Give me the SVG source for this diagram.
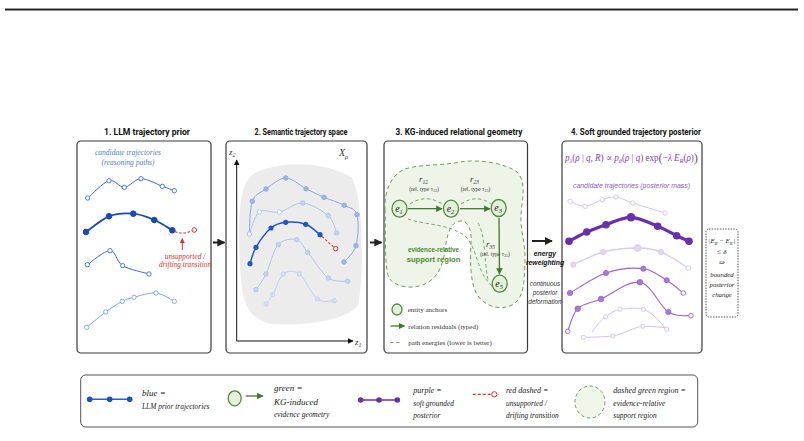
<svg xmlns="http://www.w3.org/2000/svg" width="804" height="441" viewBox="0 0 804 441">
<defs>
<style>
.box{fill:#fff;stroke:#3a3a3a;stroke-width:1.2}
.title{font-family:Roboto,"Liberation Sans",sans-serif;font-weight:700;font-size:9.5px;fill:#111;text-anchor:middle}
.ser{font-family:"Liberation Serif","DejaVu Serif",serif}
.it{font-style:italic}
.sans{font-family:"Liberation Sans",Roboto,sans-serif}
.mid{text-anchor:middle}
.b1{fill:none;stroke:#3b6fd2;stroke-width:1}
.b1c{fill:#fff;stroke:#3b6fd2;stroke-width:0.9}
.b2{fill:none;stroke:#1747b8;stroke-width:1.8}
.b2c{fill:#1747b8;stroke:#1747b8}
.b4{fill:none;stroke:#78a6f2;stroke-width:1}
.b4c{fill:#fff;stroke:#78a6f2;stroke-width:0.9}
.red{fill:none;stroke:#e03030;stroke-width:1.1;stroke-dasharray:2.5 1.8}
.redc{fill:#fff;stroke:#e03030;stroke-width:1}
.ga{fill:none;stroke:#86a8e6;stroke-width:1}
.gac{fill:#9ab6ea;stroke:#86a8e6;stroke-width:0.8}
.gb{fill:none;stroke:#adc4ee;stroke-width:1}
.gbc{fill:#c3d4f3;stroke:#adc4ee;stroke-width:0.8}
.gd{fill:none;stroke:#bfd1f3;stroke-width:1}
.gdc{fill:#d3e0f6;stroke:#bfd1f3;stroke-width:0.8}
.reg{fill:#eef5e8;stroke:#6f9e58;stroke-width:1;stroke-dasharray:4 3}
.dash{fill:none;stroke:#6f9e58;stroke-width:0.9;stroke-dasharray:3.5 2.5}
.node{fill:#e4f0da;stroke:#4f8a3a;stroke-width:1.3}
.garr{stroke:#3d7a2a;stroke-width:1.3;fill:none}
.pa{fill:none;stroke:#d6c0ee;stroke-width:1}
.pac{fill:#fff;stroke:#d6c0ee;stroke-width:0.9}
.pb{fill:none;stroke:#6a2fb0;stroke-width:3.2}
.pbc{fill:#6a2fb0}
.pl{fill:none;stroke:#dccbf2;stroke-width:1.4}
.plc{fill:#e3d6f5;stroke:#dccbf2}
.pm{fill:none;stroke:#9b62d6;stroke-width:1.1}
.pmc{fill:#a877dc;stroke:#9b62d6;stroke-width:0.8}
.pmh{fill:#fff;stroke:#9b62d6;stroke-width:0.9}
.leg{font-family:"Liberation Serif",serif;font-style:italic;fill:#222}
</style>
<marker id="ak" viewBox="0 0 10 10" refX="9" refY="5" markerWidth="4" markerHeight="4" orient="auto"><path d="M0,0L10,5L0,10z" fill="#222"/></marker>
<marker id="ag" viewBox="0 0 10 10" refX="9" refY="5" markerWidth="5" markerHeight="5" orient="auto"><path d="M0,0L10,5L0,10z" fill="#3d7a2a"/></marker>
<marker id="ar" viewBox="0 0 10 10" refX="9" refY="5" markerWidth="5" markerHeight="5" orient="auto"><path d="M0,0L10,5L0,10z" fill="#e03030"/></marker>
<marker id="ax" viewBox="0 0 10 10" refX="9" refY="5" markerWidth="6" markerHeight="6" orient="auto"><path d="M0,0L10,5L0,10z" fill="#111"/></marker>
</defs>

<rect x="5" y="8" width="793" height="1" fill="#9a9a9a"/>
<rect x="5" y="9" width="793" height="1.5" fill="#222"/>

<g id="panel1">
<rect class="box" x="77" y="141" width="134" height="212" rx="4"/>
<text class="title" x="147" y="134.5" textLength="86" lengthAdjust="spacingAndGlyphs">1. LLM trajectory prior</text>
<text class="ser it mid" x="128" y="154.5" font-size="7.5" fill="#4a80d8">candidate trajectories</text>
<text class="ser it mid" x="128" y="164.5" font-size="7.5" fill="#4a80d8">(reasoning paths)</text>
<path class="b1" d="M87.7,198 C91.3,195.1 102.9,182.5 109,180.7 C115.1,178.9 119,187.6 124.3,187.3 C129.6,187 134.7,178.9 141,178.7 C147.3,178.5 156.8,184.3 162.3,186.3 C167.9,188.3 172.3,190 174.3,190.7"/>
<g class="b1c"><circle cx="87.7" cy="198" r="2.2"/><circle cx="109" cy="180.7" r="2.2"/><circle cx="124.3" cy="187.3" r="2.2"/><circle cx="141" cy="178.7" r="2.2"/><circle cx="162.3" cy="186.3" r="2.2"/><circle cx="174.3" cy="190.7" r="2.2"/></g>
<path class="b2" d="M86,232 C89.8,229.4 101.1,219.4 109,216.3 C116.9,213.3 125.8,213.1 133.3,213.7 C140.9,214.3 147.8,217.2 154.3,220 C160.8,222.8 169.3,228.6 172.3,230.3"/>
<g class="b2c"><circle cx="86" cy="232" r="2.8"/><circle cx="109" cy="216.3" r="2.8"/><circle cx="133.3" cy="213.7" r="2.8"/><circle cx="154.3" cy="220" r="2.8"/><circle cx="172.3" cy="230.3" r="2.8"/></g>
<path class="red" d="M175,231.5 C180,234 187,233.5 191.8,230.6"/>
<circle class="redc" cx="194.3" cy="230" r="2.3"/>
<line x1="182.3" y1="250" x2="182.3" y2="238.5" stroke="#e03030" stroke-width="1" marker-end="url(#ar)"/>
<text class="ser it mid" x="185" y="258.5" font-size="7.3" fill="#e03030">unsupported /</text>
<text class="ser it mid" x="185" y="267" font-size="7.3" fill="#e03030">drifting transition</text>
<path class="b1" d="M87.3,264.7 C91.1,262.4 104.1,250.5 110,250.7 C115.9,250.9 116.2,261.8 122.7,265.7 C129.2,269.6 144.6,272.6 149,274"/>
<g class="b1c"><circle cx="87.3" cy="264.7" r="2.2"/><circle cx="110" cy="250.7" r="2.2"/><circle cx="122.7" cy="265.7" r="2.2"/><circle cx="149" cy="274" r="2.2"/></g>
<path class="b4" d="M86.7,327.3 C89.9,324.8 99.8,316.3 105.7,312 C111.6,307.7 117.6,303.8 122.3,301.3 C127,298.9 128.4,298.7 134,297.3 C139.6,295.9 149.3,292.3 156,293 C162.7,293.7 171.3,299.9 174.3,301.3"/>
<g class="b4c"><circle cx="86.7" cy="327.3" r="2.2"/><circle cx="105.7" cy="312" r="2.2"/><circle cx="122.3" cy="301.3" r="2.2"/><circle cx="134" cy="297.3" r="2.2"/><circle cx="156" cy="293" r="2.2"/><circle cx="174.3" cy="301.3" r="2.2"/></g>
</g>

<g id="panel2">
<rect class="box" x="226" y="141" width="141" height="212" rx="4"/>
<text class="title" x="301" y="134.5" textLength="93" lengthAdjust="spacingAndGlyphs">2. Semantic trajectory space</text>
<path d="M262,170 C290,160 330,163 352,178 C364,200 364,280 358,305 C345,322 300,326 272,324 C250,320 243,305 241,280 C238,240 238,200 245,185 C250,175 255,172 262,170 Z" fill="#ececec"/>
<line x1="236.7" y1="341" x2="236.7" y2="160" stroke="#111" stroke-width="1" marker-end="url(#ax)"/>
<line x1="236.7" y1="341" x2="353" y2="341" stroke="#111" stroke-width="1" marker-end="url(#ax)"/>
<text class="ser it" x="229" y="155" font-size="9" fill="#333">z<tspan font-size="6" dy="2">2</tspan></text>
<text class="ser it" x="355" y="345" font-size="9" fill="#333">z<tspan font-size="6" dy="2">1</tspan></text>
<text class="ser it" x="339" y="156" font-size="10" fill="#333">X<tspan font-size="6.5" dy="2.5">ρ</tspan></text>
<path class="ga" d="M249.3,234 C249.8,228.6 249.5,208.8 252.3,201.3 C255.1,193.8 260.4,192.9 266,189 C271.6,185.1 279,178 285.7,178 C292.4,178 299.6,185.5 306,188.7 C312.4,191.9 317.6,194.5 324,197.3 C330.4,200.1 338.8,202.4 344.3,205.3 C349.8,208.2 355,208 357,214.7 C359,221.4 358.2,237.8 356,245.7 C353.8,253.6 346,259.3 344,262"/>
<g class="gac"><circle cx="252.3" cy="201.3" r="2.3"/><circle cx="266" cy="189" r="2.3"/><circle cx="285.7" cy="178" r="2.3"/><circle cx="306" cy="188.7" r="2.3"/><circle cx="324" cy="197.3" r="2.3"/><circle cx="344.3" cy="205.3" r="2.3"/><circle cx="357" cy="214.7" r="2.3"/><circle cx="356" cy="245.7" r="2.3"/><circle cx="344" cy="262" r="2.3"/></g>
<path class="gb" d="M249.3,234 C251,230.3 254.3,215.7 259.3,212 C264.3,208.3 272.1,213.5 279.3,212 C286.5,210.5 294.5,202.4 302.7,203 C310.9,203.6 322.6,210.7 328.3,215.7 C334,220.7 335.3,230.1 336.7,233"/>
<circle cx="249.3" cy="234" r="2.2" fill="#fff" stroke="#9ab6ea" stroke-width="0.9"/>
<g fill="#fff" stroke="#adc4ee" stroke-width="0.9"><circle cx="259.3" cy="212" r="2.2"/><circle cx="279.3" cy="212" r="2.2"/></g>
<g class="gbc"><circle cx="302.7" cy="203" r="2.3"/><circle cx="328.3" cy="215.7" r="2.3"/><circle cx="336.7" cy="233" r="2.3"/></g>
<path class="gb" d="M256,289.7 C257.7,287.1 262.3,281.5 266,274 C269.7,266.5 273.2,250.4 278.3,244.7 C283.4,239 291.8,238.4 296.7,239.7 C301.6,241 302.4,245.9 307.7,252.3 C313,258.7 321.6,273.2 328.3,278 C335,282.8 344.5,280.7 347.7,281.3"/>
<g class="gbc"><circle cx="256" cy="289.7" r="2.3"/><circle cx="266" cy="274" r="2.3"/><circle cx="278.3" cy="244.7" r="2.3"/><circle cx="296.7" cy="239.7" r="2.3"/><circle cx="307.7" cy="252.3" r="2.3"/><circle cx="328.3" cy="278" r="2.3"/><circle cx="347.7" cy="281.3" r="2.3"/></g>
<path class="gd" d="M266,304 C267.1,302.5 269.8,299.7 272.7,294.7 C275.6,289.7 278.9,277.5 283.3,274 C287.7,270.5 293.6,269.8 299.3,274 C305,278.2 311.5,294.5 317.3,299 C323.1,303.5 331.5,300.4 334.3,300.7"/>
<g class="gdc"><circle cx="266" cy="304" r="2.2"/><circle cx="272.7" cy="294.7" r="2.2"/><circle cx="283.3" cy="274" r="2.2"/><circle cx="299.3" cy="274" r="2.2"/><circle cx="317.3" cy="299" r="2.2"/><circle cx="334.3" cy="300.7" r="2.2"/></g>
<path fill="none" stroke="#1f56c8" stroke-width="1.5" d="M250,263.7 C251,261 252.5,253.3 256,247.3 C259.5,241.3 266,232.2 271,228 C276,223.8 279.9,222.9 285.7,222.3 C291.5,221.7 300,222.2 305.7,224.3 C311.4,226.4 317.6,233 320,234.7"/>
<g fill="#1f56c8"><circle cx="250" cy="263.7" r="2.6"/><circle cx="256" cy="247.3" r="2.6"/><circle cx="271" cy="228" r="2.6"/><circle cx="285.7" cy="222.3" r="2.6"/><circle cx="305.7" cy="224.3" r="2.6"/><circle cx="320" cy="234.7" r="2.6"/></g>
<path class="red" d="M322,236.5 C326,240 330,244 333.8,247"/>
<circle class="redc" cx="335.7" cy="248.7" r="2.2"/>
</g>

<g id="panel3">
<rect class="box" x="384" y="141" width="143.5" height="212" rx="4"/>
<text class="title" x="459" y="134.5" textLength="127" lengthAdjust="spacingAndGlyphs">3. KG-induced relational geometry</text>
<path class="reg" d="M385,210 C384,190 392,174 405,169 C420,164 440,166 460,162 C478,159 505,163 517,172 C527,182 522,200 521,215 C520,230 526,245 525,262 C524,280 525,298 512,305 C500,311 485,306 478,296 C470,285 470,260 471,243 C472,230 468,220 460,221 C450,222 447,235 445,250 C443,265 438,278 425,284 C412,290 395,287 389,278 C384,268 386,230 385,210 Z"/>
<path class="dash" d="M410,204 C420,197 432,197 442,204"/>
<path class="dash" d="M461,204 C471,197 482,197 491,204"/>
<path class="dash" d="M408,219 C425,225 450,224 465,236 C478,248 476,272 492,286"/>
<path class="dash" d="M478,223 C486,236 484,262 488,280"/>
<text class="ser it" x="419" y="182" font-size="9" fill="#333">r<tspan font-size="5.5" dy="1.8">12</tspan></text>
<text class="ser mid" x="424" y="191" font-size="5.6" fill="#333">(rel. type τ<tspan font-size="4" dy="1.2">12</tspan><tspan dy="-1.2">)</tspan></text>
<text class="ser it" x="470" y="182" font-size="9" fill="#333">r<tspan font-size="5.5" dy="1.8">23</tspan></text>
<text class="ser mid" x="475.5" y="191" font-size="5.6" fill="#333">(rel. type τ<tspan font-size="4" dy="1.2">23</tspan><tspan dy="-1.2">)</tspan></text>
<text class="ser it" x="486" y="247" font-size="9" fill="#333">r<tspan font-size="5.5" dy="1.8">35</tspan></text>
<text class="ser mid" x="495" y="256" font-size="5.6" fill="#333">(rel. type τ<tspan font-size="4" dy="1.2">35</tspan><tspan dy="-1.2">)</tspan></text>
<line class="garr" x1="408" y1="208.7" x2="442" y2="208.7" marker-end="url(#ag)"/>
<line class="garr" x1="460" y1="208.7" x2="490" y2="208.7" marker-end="url(#ag)"/>
<line class="garr" x1="499" y1="218" x2="499.5" y2="274" marker-end="url(#ag)"/>
<g id="e1"><ellipse class="node" cx="399.5" cy="208.7" rx="7.5" ry="8.5"/><text class="ser it mid" x="399" y="212" font-size="10" fill="#222">e<tspan font-size="6.5" dy="2">1</tspan></text></g>
<g id="e2"><ellipse class="node" cx="451" cy="208.7" rx="7.5" ry="8.5"/><text class="ser it mid" x="450.5" y="212" font-size="10" fill="#222">e<tspan font-size="6.5" dy="2">2</tspan></text></g>
<g id="e3"><ellipse class="node" cx="498.7" cy="208" rx="7.5" ry="8.5"/><text class="ser it mid" x="498.2" y="211.3" font-size="10" fill="#222">e<tspan font-size="6.5" dy="2">3</tspan></text></g>
<g id="e5"><ellipse class="node" cx="499.7" cy="283.7" rx="7.5" ry="8.5"/><text class="ser it mid" x="499.2" y="287" font-size="10" fill="#222">e<tspan font-size="6.5" dy="2">5</tspan></text></g>
<text class="sans mid" x="433.5" y="251.5" font-size="7.6" font-weight="700" fill="#4a8a2e" textLength="51" lengthAdjust="spacingAndGlyphs">evidence-relative</text>
<text class="sans mid" x="433.5" y="261.5" font-size="7.6" font-weight="700" fill="#4a8a2e">support region</text>
<ellipse class="node" cx="397" cy="309.5" rx="5" ry="5.5" stroke-width="1"/>
<text class="ser" x="407.7" y="312" font-size="7" fill="#333">entity anchors</text>
<line class="garr" x1="390.5" y1="326" x2="404.5" y2="326" stroke-width="1.1" marker-end="url(#ag)"/>
<text class="ser" x="408.3" y="328.5" font-size="7" fill="#333">relation residuals (typed)</text>
<line class="dash" x1="390" y1="342.5" x2="402" y2="342.5" stroke-dasharray="3 2"/>
<text class="ser" x="408.3" y="345" font-size="7" fill="#333">path energies (lower is better)</text>
</g>

<g id="panel4">
<rect class="box" x="562" y="141" width="140" height="212" rx="4"/>
<text class="title" x="636" y="134.5" textLength="130" lengthAdjust="spacingAndGlyphs">4. Soft grounded trajectory posterior</text>
<text class="ser" x="565" y="161" font-size="9.5" fill="#7b45c0" textLength="133" lengthAdjust="spacingAndGlyphs"><tspan font-style="italic">p</tspan><tspan font-size="6.5" dy="2" font-style="italic">λ</tspan><tspan dy="-2">(</tspan><tspan font-style="italic">ρ</tspan> | <tspan font-style="italic">q</tspan>, <tspan font-style="italic">R</tspan>) ∝ <tspan font-style="italic">p</tspan><tspan font-size="6.5" dy="2" font-style="italic">θ</tspan><tspan dy="-2">(</tspan><tspan font-style="italic">ρ</tspan> | <tspan font-style="italic">q</tspan>) exp<tspan font-size="13" dy="1">(</tspan><tspan dy="-1">−</tspan><tspan font-style="italic">λ E</tspan><tspan font-size="6.5" dy="2" font-style="italic">R</tspan><tspan dy="-2">(</tspan><tspan font-style="italic">ρ</tspan>)<tspan font-size="13" dy="1">)</tspan></text>
<text class="sans it mid" x="631.5" y="188.3" font-size="7.3" fill="#8e5cd0" textLength="117" lengthAdjust="spacingAndGlyphs">candidate trajectories (posterior mass)</text>
<path class="pa" d="M570,201.3 C572.5,202.1 579.6,206.6 585,206.3 C590.4,206 597.1,201.3 602.3,199.7 C607.5,198.2 610.9,196.5 616,197 C621.1,197.6 624.5,200.3 632.7,203 C640.9,205.7 659.6,211.3 665,213"/>
<g class="pac"><circle cx="570" cy="201.3" r="2.2"/><circle cx="585" cy="206.3" r="2.2"/><circle cx="602.3" cy="199.7" r="2.2"/><circle cx="616" cy="197" r="2.2"/><circle cx="632.7" cy="203" r="2.2"/><circle cx="665" cy="213" r="2.2"/></g>
<path class="pl" d="M573.3,264.7 C578.3,262.6 592.6,254.8 603.3,252 C614,249.2 628.1,248 637.7,248 C647.3,248 652.6,248.7 661,252 C669.4,255.3 683.8,265.3 688.3,268"/>
<g class="plc"><circle cx="573.3" cy="264.7" r="2.6"/><circle cx="603.3" cy="252" r="2.6"/><circle cx="637.7" cy="248" r="3.4"/><circle cx="661" cy="252" r="2.6"/><circle cx="688.3" cy="268" r="2.4" fill="#fff"/></g>
<path class="pb" d="M569,241.3 C572,239.8 580.5,234.8 586.7,232 C592.9,229.2 598.6,227.2 606,224.7 C613.4,222.3 622.4,217 631,217.3 C639.6,217.6 650.1,223.2 657.7,226.3 C665.3,229.4 671.5,233.2 676.7,235.7 C681.9,238.2 687,240.4 689,241.3"/>
<g class="pbc"><circle cx="569" cy="241.3" r="3.8"/><circle cx="586.7" cy="232" r="3.8"/><circle cx="606" cy="224.7" r="3.8"/><circle cx="631" cy="217.3" r="4.3"/><circle cx="657.7" cy="226.3" r="3.8"/><circle cx="676.7" cy="235.7" r="3.8"/><circle cx="689" cy="241.3" r="3.8"/></g>
<path class="pm" d="M570,293 C576,289.7 593.8,277.1 606,273 C618.2,268.9 633.2,267.5 643.3,268.7 C653.4,269.9 660,276.3 666.7,280.3 C673.4,284.4 680.5,290.9 683.3,293"/>
<g class="pmc"><circle cx="570" cy="293" r="2.6"/><circle cx="606" cy="273" r="2.6"/><circle cx="643.3" cy="268.7" r="2.6"/><circle cx="666.7" cy="280.3" r="2.6"/></g>
<circle class="pmh" cx="683.3" cy="293" r="2.3"/>
<path class="pm" d="M567.7,331.3 C569.4,327.5 572.1,314.1 577.7,308.7 C583.3,303.3 590.6,303.4 601,299 C611.4,294.6 628.8,280.1 640,282.3 C651.2,284.5 659.8,306.4 668.3,312 C676.8,317.6 687.2,315.1 691,315.7"/>
<g class="pmc"><circle cx="577.7" cy="308.7" r="2.8"/><circle cx="601" cy="299" r="2.8"/><circle cx="640" cy="282.3" r="2.8"/><circle cx="668.3" cy="312" r="2.6"/></g>
<circle class="pmh" cx="567.7" cy="331.3" r="2.3"/><circle class="pmh" cx="691" cy="315.7" r="2.3"/>
<path class="pa" d="M592,332 C597,325 601,320 605.7,316.7 C611,313 615,310 620,309.3 C630,308.5 636,307.5 643.3,309.3 C652,312 660,322 666.7,329.3"/>
<path class="pa" d="M583.3,337.3 C595,337 604,337 612.7,336 C624,334 634,327 642.7,326.3 C652,326 661,327.5 668.3,328"/>
<g class="pac"><circle cx="605.7" cy="316.7" r="2.1"/><circle cx="620" cy="309.3" r="2.1"/><circle cx="643.3" cy="309.3" r="2.1"/><circle cx="666.7" cy="329.3" r="2.1"/><circle cx="583.3" cy="337.3" r="2.1"/><circle cx="612.7" cy="336" r="2.1"/><circle cx="642.7" cy="326.3" r="2.1"/></g>
</g>

<g id="connectors">
<line x1="213" y1="242.5" x2="224.5" y2="242.5" stroke="#222" stroke-width="2" marker-end="url(#ak)"/>
<line x1="370" y1="242.5" x2="381.5" y2="242.5" stroke="#222" stroke-width="2" marker-end="url(#ak)"/>
<line x1="532" y1="241" x2="552" y2="241" stroke="#222" stroke-width="2" marker-end="url(#ak)"/>
</g>

<g id="reweight">
<text class="sans it mid" x="545" y="256" font-size="6.8" font-weight="700" fill="#111">energy</text>
<text class="sans it mid" x="545" y="264.5" font-size="6.8" font-weight="700" fill="#111">reweighting</text>
<text class="sans it mid" x="545" y="285.5" font-size="6.3" fill="#333">continuous</text>
<text class="sans it mid" x="545" y="294.5" font-size="6.3" fill="#333">posterior</text>
<text class="sans it mid" x="545" y="303.5" font-size="6.3" fill="#333">deformation</text>
</g>

<g id="bound">
<rect x="706" y="229" width="32" height="88" rx="3" fill="#fff" stroke="#444" stroke-width="0.9" stroke-dasharray="1.5 1.2"/>
<text class="ser it mid" x="722" y="243" font-size="6.8" fill="#222">|E<tspan font-size="4.5" dy="1.5">R</tspan><tspan dy="-1.5"> − E</tspan><tspan font-size="4.5" dy="1.5">R′</tspan><tspan dy="-1.5">|</tspan></text>
<text class="ser mid" x="722" y="254" font-size="7" fill="#222">≤ <tspan font-style="italic">δ</tspan></text>
<text class="ser mid" x="722" y="265" font-size="7.5" fill="#222">⇒</text>
<text class="ser it mid" x="722" y="276.5" font-size="6.8" fill="#222">bounded</text>
<text class="ser it mid" x="722" y="286.5" font-size="6.8" fill="#222">posterior</text>
<text class="ser it mid" x="722" y="296.5" font-size="6.8" fill="#222">change</text>
</g>

<g id="legend">
<rect x="80.7" y="375" width="617" height="52" rx="5" fill="#fff" stroke="#555" stroke-width="1"/>
<line x1="89.7" y1="399.3" x2="129.7" y2="399.3" stroke="#2a5fc8" stroke-width="1.5"/>
<g fill="#1a50c0"><circle cx="89.7" cy="399.3" r="2.8"/><circle cx="109.7" cy="399.3" r="2.8"/><circle cx="129.7" cy="399.3" r="2.8"/></g>
<text class="leg" x="142" y="396" font-size="9">blue =</text>
<text class="leg" x="142" y="409" font-size="7.4">LLM prior trajectories</text>
<ellipse class="node" cx="234.7" cy="398.3" rx="6.5" ry="7.5" stroke-width="1"/>
<line class="garr" x1="245.7" y1="396" x2="263" y2="396" stroke-width="1.4" marker-end="url(#ag)"/>
<text class="leg" x="274" y="391" font-size="9">green =</text>
<text class="leg" x="274" y="404.5" font-size="9">KG-induced</text>
<text class="leg" x="274" y="417" font-size="7.4">evidence geometry</text>
<line x1="360.7" y1="400" x2="397.3" y2="400" stroke="#7030a0" stroke-width="1.5"/>
<g fill="#6a2fb0"><circle cx="360.7" cy="400" r="2.8"/><circle cx="379" cy="400" r="2.8"/><circle cx="397.3" cy="400" r="2.8"/></g>
<text class="leg" x="413.3" y="392.5" font-size="8">purple =</text>
<text class="leg" x="413.3" y="405.5" font-size="7.4">soft grounded</text>
<text class="leg" x="413.3" y="417.5" font-size="7.4">posterior</text>
<line x1="472.7" y1="394.3" x2="491.5" y2="394.3" stroke="#e03030" stroke-width="1.2" stroke-dasharray="3 2"/>
<circle class="redc" cx="494.3" cy="394.3" r="2.6"/>
<text class="leg" x="506" y="392.5" font-size="8">red dashed =</text>
<text class="leg" x="506" y="405.5" font-size="7.4">unsupported /</text>
<text class="leg" x="506" y="417.5" font-size="7.4">drifting transition</text>
<ellipse cx="590" cy="402" rx="15" ry="16" fill="#f0f6ea" stroke="#6f9e58" stroke-width="1" stroke-dasharray="3.5 2.5"/>
<text class="leg" x="613.3" y="392.5" font-size="8">dashed green region =</text>
<text class="leg" x="613.3" y="405.5" font-size="7.6">evidence-relative</text>
<text class="leg" x="613.3" y="418" font-size="7.4">support region</text>
</g>
</svg>
